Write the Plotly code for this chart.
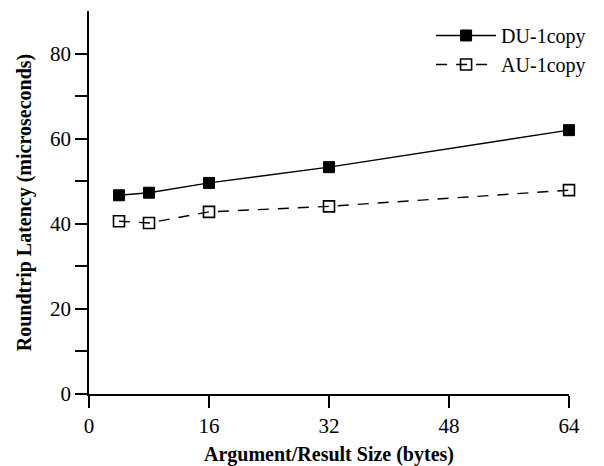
import plotly.graph_objects as go

sizes = [4, 8, 16, 32, 64]
du_1copy = [46.7, 47.3, 49.6, 53.3, 62.0]
au_1copy = [40.6, 40.2, 42.8, 44.1, 47.9]
x_ticks = [0, 16, 32, 48, 64]
y_ticks = [0, 20, 40, 60, 80]

font = "Liberation Serif, Times New Roman, serif"

fig = go.Figure()
fig.add_trace(go.Scatter(
    x=sizes, y=du_1copy, name="DU-1copy", mode="lines+markers", cliponaxis=False,
    line=dict(color="black", width=1.4),
    marker=dict(symbol="square", size=11, color="black", line=dict(color="black", width=1)),
))
fig.add_trace(go.Scatter(
    x=sizes, y=au_1copy, name="AU-1copy", mode="lines+markers", cliponaxis=False,
    line=dict(color="black", width=1.4, dash="11px,9px"),
    marker=dict(symbol="square-open", size=11, color="black", line=dict(color="black", width=1.6)),
))

axis_common = dict(
    showline=True, linecolor="black", linewidth=1.6,
    ticks="outside", ticklen=12, tickwidth=1.6, tickcolor="black",
    showgrid=False, zeroline=False,
    tickfont=dict(family=font, size=21, color="black"),
)

fig.update_xaxes(
    range=[0, 64], tickvals=x_ticks,
    title=dict(text="<b>Argument/Result Size (bytes)</b>", font=dict(family=font, size=20, color="black"), standoff=12),
    **axis_common,
)
fig.update_yaxes(
    range=[0, 90], tickvals=y_ticks,
    minor=dict(ticks="outside", ticklen=12, tickwidth=1.6, tickcolor="black", tickvals=[10, 30, 50, 70]),
    title=dict(text="<b>Roundtrip Latency (microseconds)</b>", font=dict(family=font, size=20, color="black"), standoff=13),
    **axis_common,
)

fig.update_layout(
    width=604, height=466,
    margin=dict(l=89, r=35, t=11, b=72, autoexpand=False),
    plot_bgcolor="white", paper_bgcolor="white",
    font=dict(family=font, color="black"),
    legend=dict(
        x=1.046, y=0.987, xanchor="right", yanchor="top",
        font=dict(family=font, size=20, color="black"),
        bgcolor="rgba(0,0,0,0)", itemwidth=60, tracegroupgap=0,
    ),
)

fig.write_html("out.html")
